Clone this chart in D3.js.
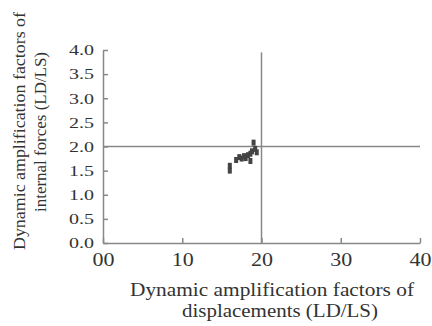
<!DOCTYPE html>
<html>
<head>
<meta charset="utf-8">
<script src="https://cdn.jsdelivr.net/npm/d3@7"></script>
<style>
  body { margin: 0; background: #fff; }
  text { font-family: "Liberation Serif", "Times New Roman", serif; fill: #333; }
  .axis path, .axis line { stroke: #888; stroke-width: 1.5; }
</style>
</head>
<body>
<div id="vis"></div>
<script>
// data
var xVals = [16.0, 16.0, 16.8, 17.2, 17.5, 17.8, 18.0, 18.3, 18.6, 18.6, 18.8, 19.0, 19.2, 19.4];
var yVals = [1.50, 1.60, 1.72, 1.78, 1.75, 1.80, 1.76, 1.82, 1.70, 1.85, 1.90, 2.08, 1.95, 1.88];
var xTicks = [0, 10, 20, 30, 40];
var xTickLabels = ['00', '10', '20', '30', '40'];
var yTicks = [0, 0.5, 1, 1.5, 2, 2.5, 3, 3.5, 4];
var refX = 20;
var refY = 2;

var width = 432;
var height = 326;
var margin = { top: 50, right: 12, bottom: 83, left: 103 };
var drawWidth = width - margin.left - margin.right;
var drawHeight = height - margin.top - margin.bottom;

var svg = d3.select('#vis')
            .append('svg')
            .attr('width', width)
            .attr('height', height);

var g = svg.append('g')
           .attr('transform', 'translate(' + margin.left + ',' + margin.top + ')');

var xScale = d3.scaleLinear().domain([0, 40]).range([0, 317]);
var yScale = d3.scaleLinear().domain([0, 4]).range([drawHeight, 0]);

// reference lines
g.append('line')
 .attr('x1', xScale(0)).attr('x2', xScale(40))
 .attr('y1', yScale(refY)).attr('y2', yScale(refY))
 .attr('stroke', '#888').attr('stroke-width', 1.5);
g.append('line')
 .attr('x1', xScale(refX)).attr('x2', xScale(refX))
 .attr('y1', yScale(0)).attr('y2', yScale(3.95))
 .attr('stroke', '#888').attr('stroke-width', 1.5);

// axes
var xAxis = d3.axisBottom(xScale)
              .tickValues(xTicks)
              .tickSizeInner(-5)
              .tickSizeOuter(0)
              .tickPadding(10)
              .tickFormat(function(d, i) { return xTickLabels[i]; });
g.append('g')
 .attr('class', 'axis')
 .attr('transform', 'translate(0,' + drawHeight + ')')
 .call(xAxis)
 .selectAll('text')
 .style('font-size', '18px')
 .attr('textLength', 22)
 .attr('lengthAdjust', 'spacingAndGlyphs');

var yAxis = d3.axisLeft(yScale)
              .tickValues(yTicks)
              .tickSizeInner(-5)
              .tickSizeOuter(0)
              .tickPadding(9)
              .tickFormat(d3.format('.1f'));
g.append('g')
 .attr('class', 'axis')
 .call(yAxis)
 .selectAll('text')
 .style('font-size', '15px')
 .attr('textLength', 25)
 .attr('lengthAdjust', 'spacingAndGlyphs');

svg.selectAll('.axis .domain').attr('stroke', '#888');

// points
var pts = xVals.map(function(d, i) { return { x: d, y: yVals[i] }; });
g.selectAll('rect.pt')
 .data(pts)
 .enter().append('rect')
 .attr('class', 'pt')
 .attr('x', function(d) { return xScale(d.x) - 2; })
 .attr('y', function(d) { return yScale(d.y) - 3; })
 .attr('width', 4)
 .attr('height', 6)
 .attr('fill', '#444');

// axis titles
var xt = svg.append('text')
            .attr('text-anchor', 'middle')
            .style('font-size', '19px');
xt.append('tspan').attr('x', 272).attr('y', 296)
  .attr('textLength', 284).attr('lengthAdjust', 'spacingAndGlyphs')
  .text('Dynamic amplification factors of');
xt.append('tspan').attr('x', 280).attr('y', 317)
  .attr('textLength', 196).attr('lengthAdjust', 'spacingAndGlyphs')
  .text('displacements (LD/LS)');

var yt = svg.append('text')
            .attr('text-anchor', 'middle')
            .attr('transform', 'rotate(-90)')
            .style('font-size', '17px');
yt.append('tspan').attr('x', -131).attr('y', 25)
  .attr('textLength', 238).attr('lengthAdjust', 'spacingAndGlyphs')
  .text('Dynamic amplification factors of');
yt.append('tspan').attr('x', -132).attr('y', 46)
  .attr('textLength', 160).attr('lengthAdjust', 'spacingAndGlyphs')
  .text('internal forces (LD/LS)');
</script>
</body>
</html>
